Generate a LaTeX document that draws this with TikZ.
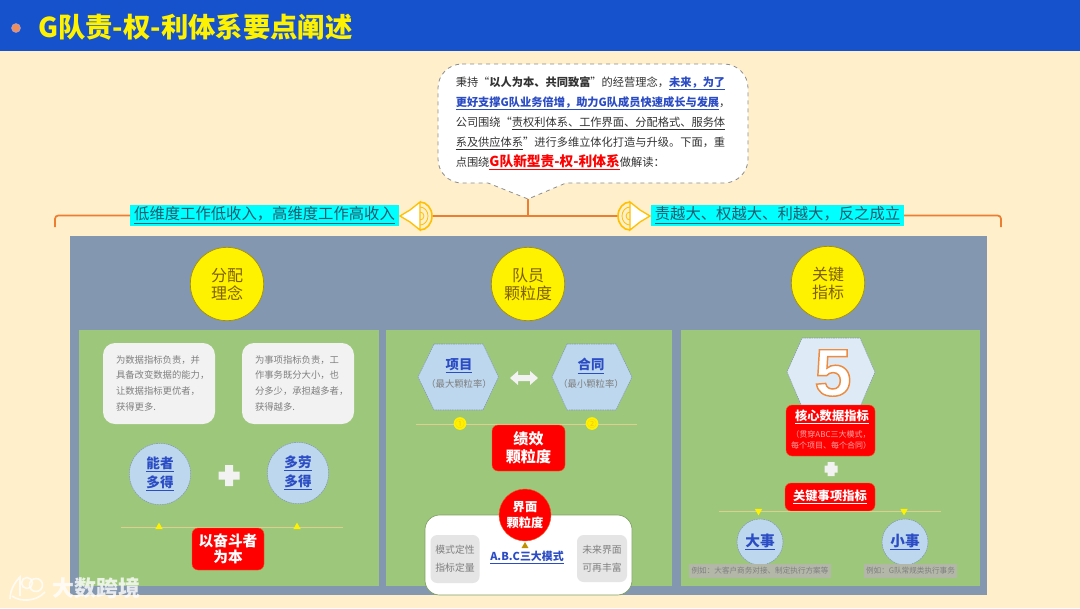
\documentclass[tikz,border=0pt]{standalone}
\usepackage{fontspec}
\setmainfont{Noto Sans CJK SC}
\newfontfamily\latinbold{Liberation Sans}
\usetikzlibrary{shapes.geometric,arrows.meta}
\definecolor{headblue}{HTML}{1652CC}
\definecolor{pagebg}{HTML}{FFEFCB}
\definecolor{panel}{HTML}{8497B0}
\definecolor{leaf}{HTML}{9DC77B}
\definecolor{ring}{HTML}{FFC000}
\definecolor{bracket}{HTML}{ED7D31}
\definecolor{linkblue}{HTML}{2B4CC4}
\definecolor{softblue}{HTML}{BDD7EE}
\definecolor{greytxt}{HTML}{7F7F7F}
\definecolor{olive}{HTML}{7F6000}
\definecolor{tealtxt}{HTML}{1F5A6E}
\definecolor{tan}{HTML}{DDD08F}
\definecolor{bannerc}{HTML}{00FFFF}
\definecolor{notefill}{HTML}{B2B7A8}
\newcommand{\fs}[2]{\fontsize{#1}{#2}\selectfont}
\newcommand{\cardtxt}[1]{\raisebox{-1.5pt}{\makebox[64.5pt][l]{\begin{tabular}{@{}l@{}}#1\end{tabular}}}}
\tikzset{
  x=0.75pt,y=-0.75pt,
  box/.style n args={2}{minimum width=#1*0.75pt,minimum height=#2*0.75pt,inner sep=0pt,outer sep=0pt},
  finedash/.style={dash pattern=on 1.2pt off .6pt},
  greenpanel/.style={rectangle,fill=leaf,anchor=north west},
  headcirc/.style={circle,fill=yellow,draw=olive!70!yellow,line width=.5pt,minimum size=55pt,inner sep=0pt,text=olive,align=center,font=\fs{12}{13.5}},
  softcard/.style={rectangle,rounded corners=9pt,fill=black!5,text=greytxt,font=\fs{7}{11.8}},
  bluecirc/.style={circle,fill=softblue,draw=panel,finedash,line width=.4pt,inner sep=0pt,text=linkblue,align=center,font=\bfseries\fs{10.2}{14.5}},
  redbox/.style={rectangle,rounded corners=4.5pt,fill=red,draw=bracket!70!red,line width=.3pt,text=white,align=center},
  hexa/.style={fill=softblue,draw=panel,finedash,line width=.4pt},
  rule/.style={draw=tan,line width=.7pt},
  tribadge/.style={regular polygon,regular polygon sides=3,fill=yellow,inner sep=0pt,minimum size=7pt},
  grist/.style={rectangle,rounded corners=5pt,fill=black!10,text=greytxt,align=center,font=\fs{7.4}{13.5}},
  banner/.style={rectangle,fill=bannerc,text=tealtxt,inner sep=0pt,font=\fs{11.5}{12}},
  brk/.style={draw=bracket,line width=1.3pt,rounded corners=2.5pt},
  note/.style={rectangle,fill=notefill,text=greytxt,inner sep=0pt,font=\fs{5.7}{7}},
  speaker/.pic={
    \fill[white] (-20,0) -- (-10,-6) -- (0,-14) -- (0,14) -- (-10,6) -- cycle;
    \draw[ring,line width=1pt] (-20,0) -- (-10,-6) -- (0,-14) -- (0,14) -- (-10,6) -- cycle;
    \draw[ring,line width=1.2pt] (0,-14) arc[start angle=-90,end angle=90,x radius=12,y radius=14];
    \draw[ring,line width=.6pt] (0,-9) arc[start angle=-90,end angle=90,x radius=8,y radius=9];
    \draw[ring,line width=.6pt] (0,-4) arc[start angle=-90,end angle=90,radius=4];
  }
}
\begin{document}
\begin{tikzpicture}
\useasboundingbox (0,0) rectangle (1080,608);
\fill[pagebg] (0,0) rectangle (1080,608);
\fill[headblue] (0,0) rectangle (1080,51);
\node[circle,fill=bracket!75!pink,draw=pink!70!headblue,line width=.6pt,minimum size=6.5pt,inner sep=0pt] (dot) at (16,28) {};
\node[anchor=west,inner sep=0pt,text=yellow,font=\bfseries\fs{20.5}{24}] (title) at (38,27) {G队责-权-利体系要点阐述};

% callout
\fill[white] (462,64) -- (724,64) to[out=0,in=90] (748,88) -- (748,159) to[out=-90,in=0] (724,183) -- (566,183) -- (528,199) -- (488,183) -- (462,183) to[out=180,in=-90] (438,159) -- (438,88) to[out=90,in=180] cycle;
\draw[black!45,dashed,line width=.6pt] (462,64) -- (724,64) to[out=0,in=90] (748,88) -- (748,159) to[out=-90,in=0] (724,183) -- (566,183) -- (528,199) -- (488,183) -- (462,183) to[out=180,in=-90] (438,159) -- (438,88) to[out=90,in=180] cycle;
\coordinate (tip) at (528,199);
\node[anchor=north west,inner sep=0pt,align=left,text=black!80,font=\fs{8.42}{15.05}] (para) at (455.5,76) {%
秉持“\textbf{以人为本、共同致富}”的经营理念，\textcolor{linkblue}{\textbf{\underline{未来，为了}}}\\
\textcolor{linkblue}{\textbf{\underline{更好支撑G队业务倍增，助力G队成员快速成长与发展}}}，\\
公司围绕“\underline{责权利体系、工作界面、分配格式、服务体}\\
\underline{系及供应体系}”进行多维立体化打造与升级。下面，重\\
点围绕\textcolor{red}{\textbf{\fs{10.3}{15.05}\underline{G队新型责-权-利体系}}}做解读：};

% banners and bracket
\node[banner,box={269}{21}] (bl) at (264.5,215.5) {\underline{低维度工作低收入，高维度工作高收入}};
\node[banner,box={253}{21}] (br) at (777.5,215.5) {\underline{责越大、权越大、利越大，反之成立}};
\coordinate (ll) at (55,227);
\coordinate (rr) at (1001,227);
\coordinate (midbar) at (528,216);
\coordinate (sl) at (432,216);
\coordinate (sr) at (618,216);
\draw[brk] (ll) |- (bl.west);
\draw[brk] (rr) |- (br.east);
\draw[bracket,line width=1.3pt] (sl) -- (sr);
\draw[bracket,line width=1.2pt] (tip) -- (midbar);
\pic at (420,216) {speaker};
\pic[xscale=-1] at (630,216) {speaker};

% main panel
\fill[panel] (70,236) rectangle (987,595);
\node[greenpanel,box={300}{256}] (p1) at (79,330) {};
\node[greenpanel,box={286}{256}] (p2) at (386,330) {};
\node[greenpanel,box={299}{256}] (p3) at (681,330) {};
\node[headcirc] (h1) at (227,284) {分配\\理念};
\node[headcirc] (h2) at (528,284) {队员\\颗粒度};
\node[headcirc] (h3) at (828,283) {关键\\指标};

% left panel
\node[softcard,box={112}{81}] (c1) at (159,383.5) {\cardtxt{为数据指标负责，并\\具备改变数据的能力，\\让数据指标更优者，\\获得更多.}};
\node[softcard,box={112}{81}] (c2) at (298,383.5) {\cardtxt{为事项指标负责，工\\作事务既分大小，也\\分多少，承担越多者，\\获得越多.}};
\node[bluecirc,minimum size=46pt] (n1) at (160,474) {\underline{能者}\\\underline{多得}};
\node[bluecirc,minimum size=46pt] (n2) at (298,473) {\underline{多劳}\\\underline{多得}};
\fill[black!5] (225,465) rectangle (233,486) (218.5,471.5) rectangle (239.5,479.5);
\coordinate (la) at (121,527.5);
\coordinate (lb) at (343,527.5);
\draw[rule] (la) -- (lb);
\node[tribadge,minimum size=6.5pt] (t1) at (159,527) {};
\node[tribadge,minimum size=6.5pt] (t2) at (297,527) {};
\node[redbox,box={72}{42},font=\bfseries\fs{11}{11.5}] (r1) at (228,549) {以奋斗者\\为本};

% middle panel
\path[hexa] (434,344) -- (483,344) -- (498.5,377) -- (483,410) -- (434,410) -- (418,377) -- cycle;
\path[hexa] (567,344) -- (616,344) -- (632,377) -- (616,410) -- (567,410) -- (552,377) -- cycle;
\node[inner sep=0pt,text=linkblue,font=\bfseries\fs{10}{12}] (x1) at (459,366) {\underline{项目}};
\node[inner sep=0pt,text=greytxt,font=\fs{7}{9}] (x1s) at (459,384) {（最大颗粒率）};
\node[inner sep=0pt,text=linkblue,font=\bfseries\fs{10}{12}] (x2) at (591,366) {\underline{合同}};
\node[inner sep=0pt,text=greytxt,font=\fs{7}{9}] (x2s) at (591,384) {（最小颗粒率）};
\fill[black!5] (510,378) -- (518,371) -- (518,375) -- (530,375) -- (530,371) -- (538,378) -- (530,385) -- (530,381) -- (518,381) -- (518,385) -- cycle;
\coordinate (ma) at (416,424.5);
\coordinate (mb) at (637,424.5);
\draw[rule] (ma) -- (mb);
\node[circle,fill=yellow,minimum size=9pt,inner sep=0pt,text=ring,font=\fs{7}{8}] (y1) at (460,423.5) {①};
\node[circle,fill=yellow,minimum size=9pt,inner sep=0pt,text=ring,font=\fs{7}{8}] (y2) at (592,423.5) {②};
\node[redbox,box={73}{46},font=\bfseries\fs{11.3}{13.5}] (r2) at (528.5,448) {绩效\\颗粒度};
\node[rectangle,rounded corners=11pt,fill=white,draw=leaf!80!black,line width=.5pt,box={207}{80}] (w) at (528.5,555) {};
\node[circle,fill=red,draw=bracket!70!red,line width=.3pt,minimum size=39pt,inner sep=0pt,text=white,align=center,font=\bfseries\fs{9.2}{12.5}] (r3) at (525,515) {界面\\颗粒度};
\node[grist,box={49}{48}] (g1) at (455,559) {模式定性\\指标定量};
\node[grist,box={50}{47}] (g2) at (602,558.5) {未来界面\\可再丰富};
\node[inner sep=0pt,text=linkblue,font=\bfseries\fs{8.2}{10}] (abc) at (527,558) {\underline{A.B.C三大模式}};
\node[regular polygon,regular polygon sides=3,fill=ring!75!black,inner sep=0pt,minimum size=6pt] (t3) at (525,546) {};

% right panel
\path[hexa,fill=softblue!50!white] (802,338) -- (860,338) -- (875,372) -- (860,407) -- (802,407) -- (787,372) -- cycle;
\node[inner sep=0pt] (five) at (833,373) {\textcolor{white}{\special{pdf:code 2 Tr 1.1 w 0.93 0.55 0.25 RG}\latinbold\bfseries\fs{50}{50}5\special{pdf:code 0 Tr 0 G}}};
\node[redbox,box={89}{51}] (r4) at (830.5,430.5) {};
\node[inner sep=0pt,text=white,font=\bfseries\fs{9.2}{11}] (r4a) at (832,417) {\underline{核心数据指标}};
\node[inner sep=0pt,text=white!65!red,align=center,font=\fs{6}{8.2}] (r4b) at (831,440) {（贯穿ABC三大模式，\\每个项目、每个合同）};
\fill[black!5] (827.5,462) rectangle (834.5,476) (824.5,465.5) rectangle (837.5,472.5);
\node[redbox,box={90}{28},font=\bfseries\fs{9.2}{11}] (r5) at (830,497) {\underline{关键事项指标}};
\coordinate (ra) at (719,511);
\coordinate (rb) at (941,511);
\draw[rule] (ra) -- (rb);
\node[tribadge,shape border rotate=180,minimum size=6.5pt] (t4) at (758.5,511) {};
\node[tribadge,shape border rotate=180,minimum size=6.5pt] (t5) at (904,511) {};
\node[bluecirc,minimum size=34.5pt,font=\bfseries\fs{11}{13}] (n3) at (760,542) {\underline{大事}};
\node[bluecirc,minimum size=34.5pt,font=\bfseries\fs{11}{13}] (n4) at (905,542) {\underline{小事}};
\node[note,box={142}{14}] (e1) at (760,571) {例如：大客户商务对接、制定执行方案等};
\node[note,box={93}{14}] (e2) at (910.5,571) {例如：G队常规类执行事务};

% watermark
\begin{scope}[draw=white,line width=1.2pt,opacity=.8]
\draw (10,599) .. controls (10,590) and (15,582) .. (20,577) -- (20,596);
\draw (27,583) circle[radius=5.5];
\draw (36,585) circle[radius=6.5];
\draw (12,596) .. controls (20,602) and (36,602) .. (45,592);
\end{scope}
\node[anchor=west,inner sep=0pt,text=white,opacity=.8,font=\bfseries\fs{16.5}{18}] (wm) at (52,588) {大数跨境};
\end{tikzpicture}
\end{document}
